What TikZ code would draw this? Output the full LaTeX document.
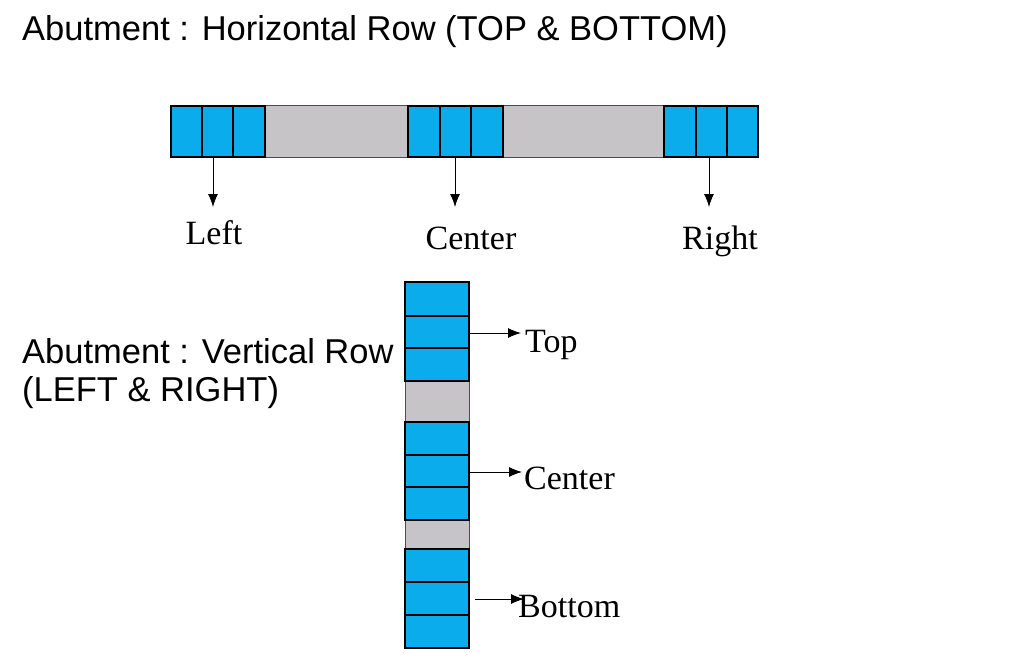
\documentclass[tikz,border=0pt]{standalone}
\usepackage{fontspec}
\setmainfont{Liberation Serif}
\setsansfont{Liberation Sans}
\usetikzlibrary{arrows.meta}
\definecolor{cellblue}{RGB}{10,172,236}
\definecolor{cellgrey}{RGB}{198,196,198}
\tikzset{
  cell/.style={draw=black, line width=1.3pt, fill=cellblue, inner sep=0pt, outer sep=0pt},
  gap/.style={draw=black!70, line width=1pt, fill=cellgrey, inner sep=0pt, outer sep=0pt},
  arr/.style={-{Latex[length=13pt,width=10pt]}, line width=0.9pt},
  title/.style={font=\sffamily\fontsize{34.5}{40}\selectfont, anchor=base west, inner sep=0pt},
  lbl/.style={font=\fontsize{34}{39}\selectfont, anchor=base, inner sep=0pt},
  lblw/.style={font=\fontsize{34}{39}\selectfont, anchor=base west, inner sep=0pt}
}
\begin{document}
\begin{tikzpicture}[x=1pt,y=-1pt]
\useasboundingbox (0,0) rectangle (1013,669);
\fill[white] (0,0) rectangle (1013,669);
% titles
\node[title] (t1) at (22,41) {Abutment : Horizontal Row (TOP \& BOTTOM)};
\node[title] (t2) at (22,363) {Abutment : Vertical Row};
\node[title] (t3) at (22,401) {(LEFT \& RIGHT)};
% horizontal row
\node[gap, minimum width=143pt, minimum height=51pt] (hg1) at (336.5,131.5) {};
\node[gap, minimum width=161pt, minimum height=51pt] (hg2) at (583.5,131.5) {};
\node[cell, minimum width=31pt, minimum height=51pt] (h1) at (186.5,131.5) {};
\node[cell, minimum width=31pt, minimum height=51pt] (h2) at (217.5,131.5) {};
\node[cell, minimum width=32pt, minimum height=51pt] (h3) at (249,131.5) {};
\node[cell, minimum width=32pt, minimum height=51pt] (h4) at (424,131.5) {};
\node[cell, minimum width=31pt, minimum height=51pt] (h5) at (455.5,131.5) {};
\node[cell, minimum width=32pt, minimum height=51pt] (h6) at (487,131.5) {};
\node[cell, minimum width=32pt, minimum height=51pt] (h7) at (680,131.5) {};
\node[cell, minimum width=31pt, minimum height=51pt] (h8) at (711.5,131.5) {};
\node[cell, minimum width=31pt, minimum height=51pt] (h9) at (742.5,131.5) {};
% horizontal labels
\node[lbl] (lleft) at (214,244) {Left};
\node[lbl] (lcenter) at (471,249) {Center};
\node[lbl] (lright) at (720,249) {Right};
\coordinate (aleft) at (213,207);
\coordinate (acenter) at (455,207);
\coordinate (aright) at (709,207);
\draw[arr] (h2.south -| aleft) -- (aleft);
\draw[arr] (h5.south -| acenter) -- (acenter);
\draw[arr] (h8.south -| aright) -- (aright);
% vertical row
\node[gap, minimum width=64pt, minimum height=41pt] (vg1) at (437,401.5) {};
\node[gap, minimum width=64pt, minimum height=29pt] (vg2) at (437,534.5) {};
\node[cell, minimum width=64pt, minimum height=34pt] (v1) at (437,299) {};
\node[cell, minimum width=64pt, minimum height=32pt] (v2) at (437,332) {};
\node[cell, minimum width=64pt, minimum height=33pt] (v3) at (437,364.5) {};
\node[cell, minimum width=64pt, minimum height=33pt] (v4) at (437,438.5) {};
\node[cell, minimum width=64pt, minimum height=32pt] (v5) at (437,471) {};
\node[cell, minimum width=64pt, minimum height=33pt] (v6) at (437,503.5) {};
\node[cell, minimum width=64pt, minimum height=33pt] (v7) at (437,565.5) {};
\node[cell, minimum width=64pt, minimum height=33pt] (v8) at (437,598.5) {};
\node[cell, minimum width=64pt, minimum height=33pt] (v9) at (437,631.5) {};
% vertical labels
\node[lblw] (ltop) at (525,352) {Top};
\node[lblw] (lvcenter) at (524,489) {Center};
\node[lblw] (lbottom) at (518,617) {Bottom};
\coordinate (atop) at (521,333);
\coordinate (avcenter) at (522,472);
\coordinate (abottom) at (524,599);
\draw[arr] (v2.east |- atop) -- (atop);
\draw[arr] (v5.east |- avcenter) -- (avcenter);
\draw[arr] ([xshift=6pt]v8.east |- abottom) -- (abottom);
\end{tikzpicture}
\end{document}
